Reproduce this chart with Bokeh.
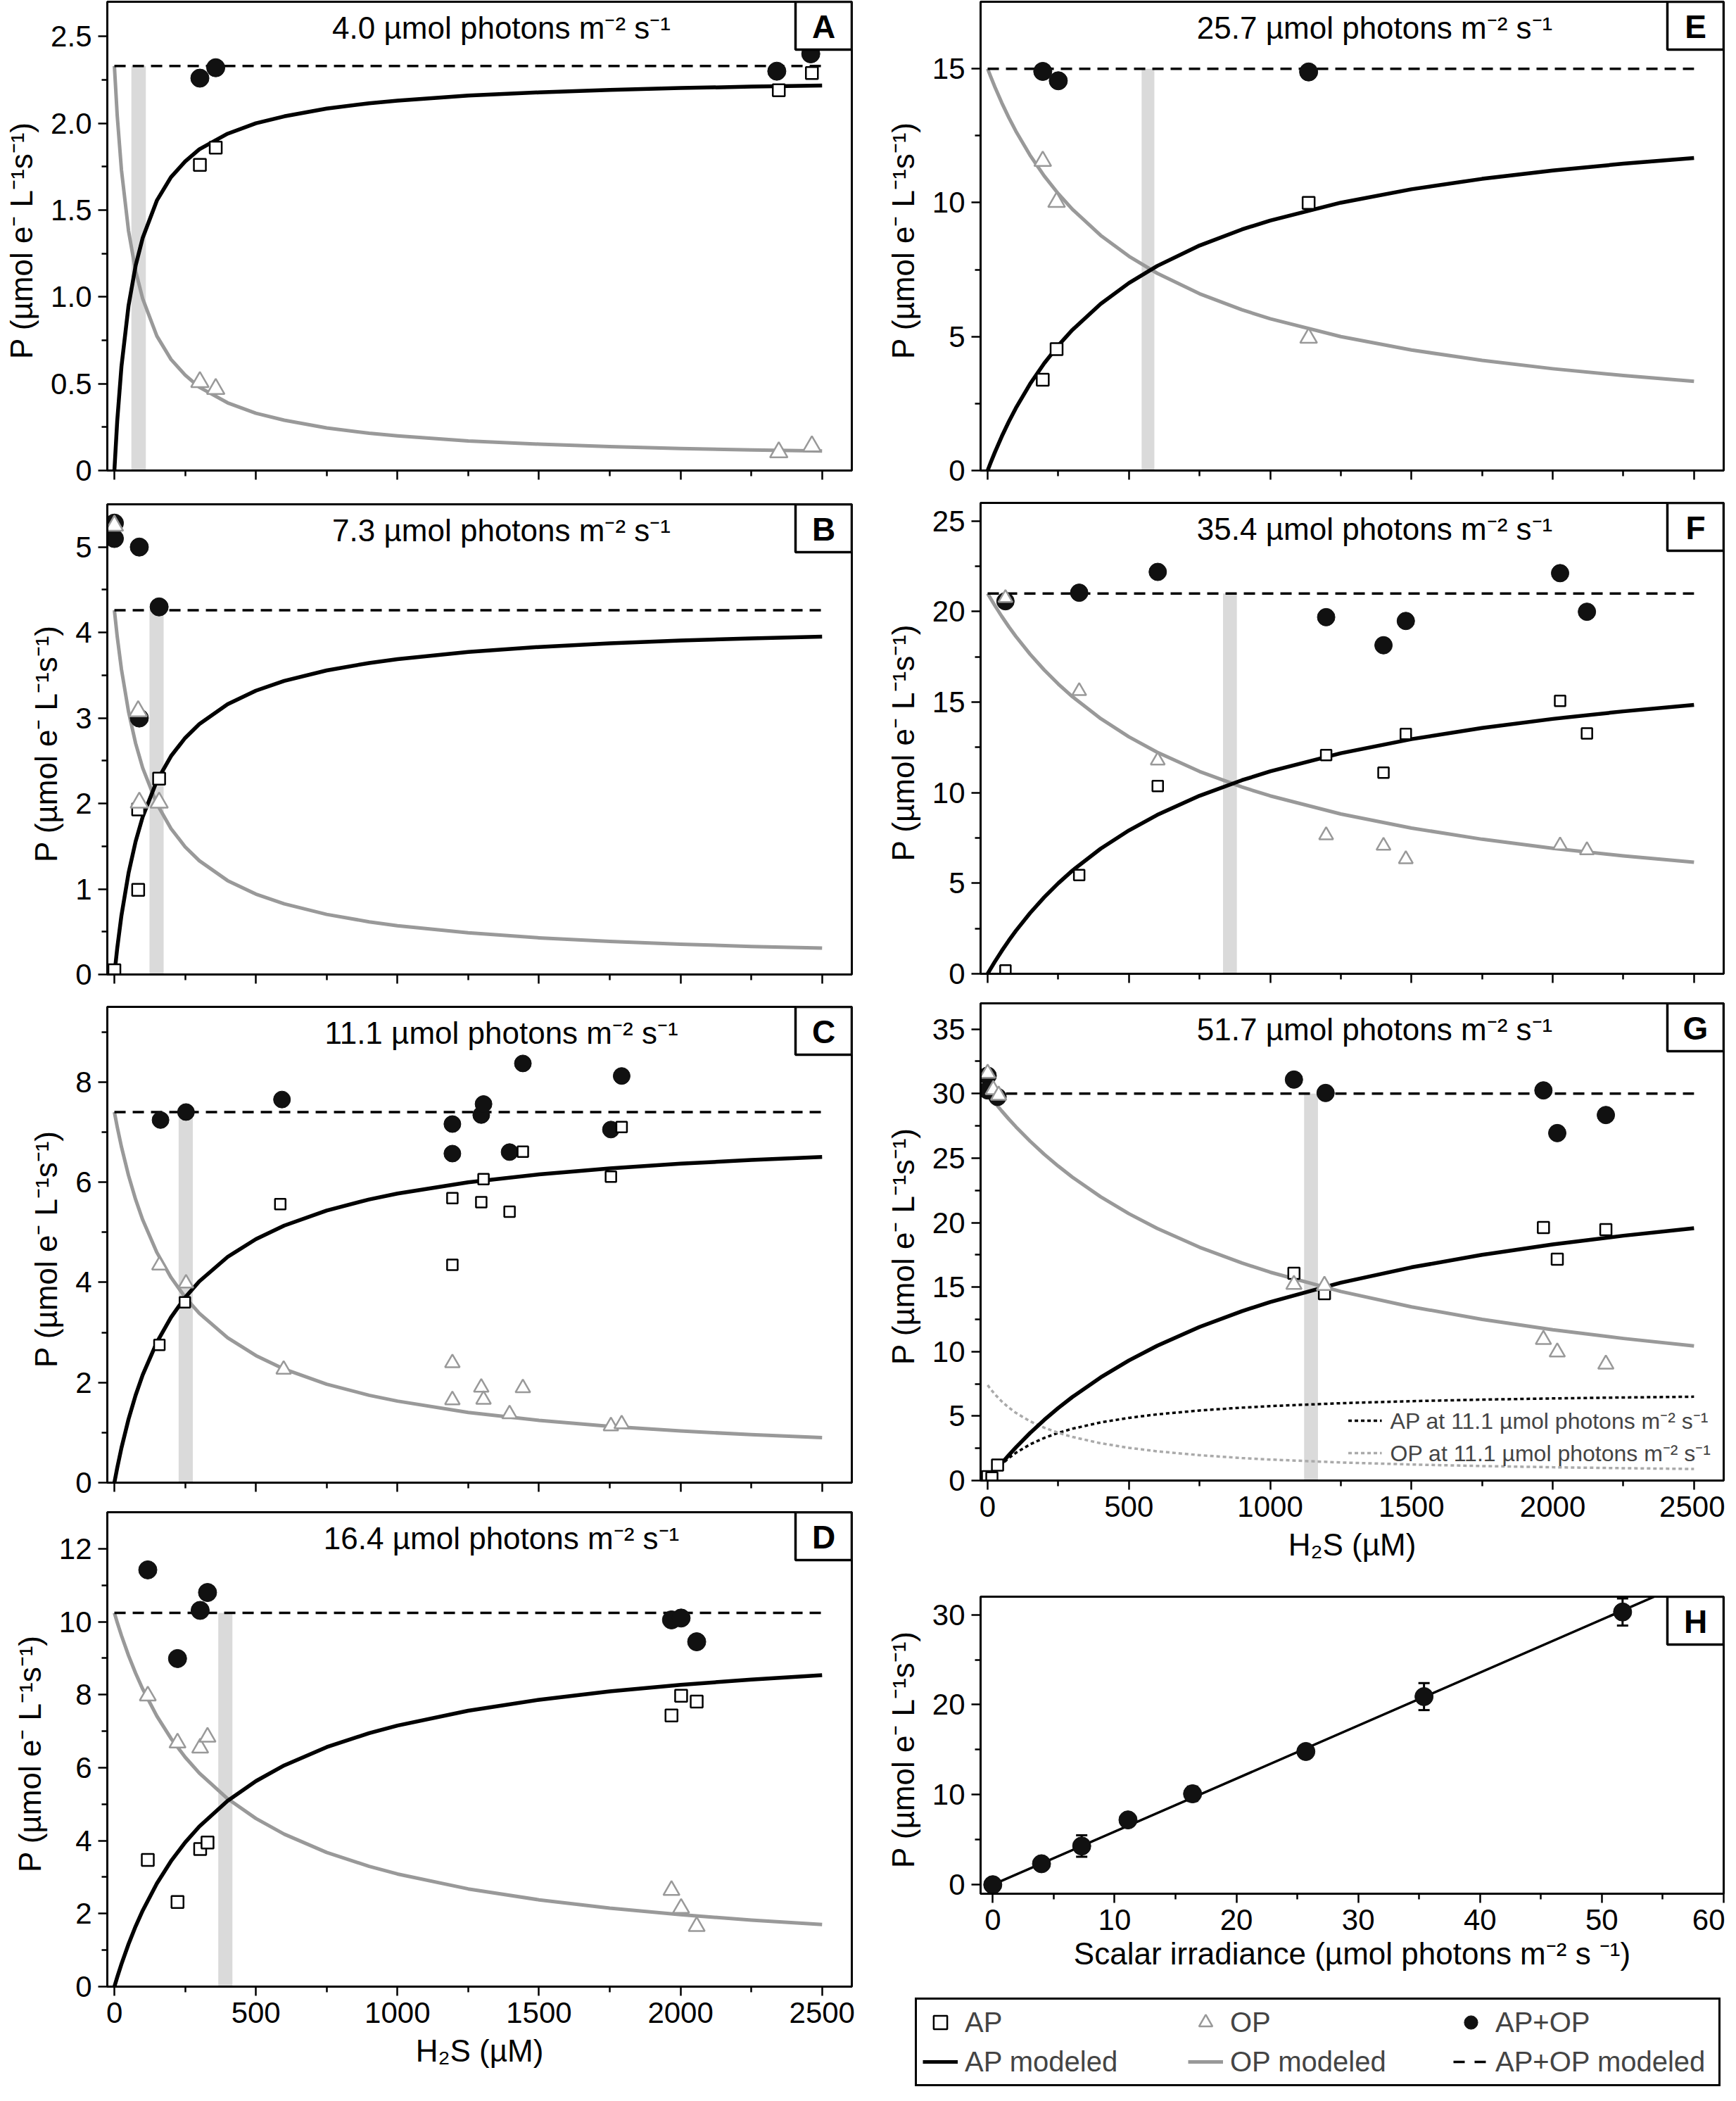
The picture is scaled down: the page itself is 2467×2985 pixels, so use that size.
from bokeh.plotting import figure
from bokeh.models import (Range1d, FixedTicker, Label, BoxAnnotation, Legend,
                          LegendItem, ColumnDataSource, Whisker, TeeHead)
from bokeh.layouts import row, column
from bokeh.embed import file_html
from bokeh.resources import INLINE
from bokeh.core.properties import value

FONT = "Liberation Sans"
GRAY = "#999999"
BAR_COLOR = "#dadada"
DOT_COLOR = "#111111"

# ---------------------------------------------------------------- common
H2S_MAJOR = [0, 500, 1000, 1500, 2000, 2500]
H2S_MINOR = [250, 750, 1250, 1750, 2250]
H2S_LABELS = ["0", "500", "1000", "1500", "2000", "2500"]
MODEL_SPAN = [0, 2500]
X_RANGE = (-25, 2605)
Y_LABEL = "P (µmol e⁻  L⁻¹s⁻¹)"
X_LABEL = "H₂S (µM)"
MODEL_H2S = [0, 10, 25, 50, 75, 100, 150, 200, 250, 300, 400, 500, 600, 750, 900,
             1000, 1250, 1500, 1750, 2000, 2250, 2500]

# ---------------------------------------------------------------- panel A
A_TITLE = "4.0 µmol photons m⁻² s⁻¹"
A_YMAX = 2.70
A_YMAJOR = [0, 0.5, 1.0, 1.5, 2.0, 2.5]
A_YMINOR = [0.25, 0.75, 1.25, 1.75, 2.25]
A_YLABELS = ["0", "0.5", "1.0", "1.5", "2.0", "2.5"]
A_AP_H2S = [302, 358, 2347, 2464]
A_AP_P = [1.76, 1.86, 2.19, 2.29]
A_OP_H2S = [302, 358, 2347, 2464]
A_OP_P = [0.51, 0.47, 0.105, 0.14]
A_TOT_H2S = [302, 358, 2340, 2460]
A_TOT_P = [2.26, 2.32, 2.30, 2.40]
A_AP_MODEL = [0, 0.285, 0.60, 0.95, 1.18, 1.34, 1.555, 1.69, 1.78, 1.85, 1.94, 2.0,
              2.04, 2.085, 2.115, 2.13, 2.16, 2.178, 2.192, 2.203, 2.211, 2.218]
A_OP_MODEL = [2.33, 2.045, 1.73, 1.38, 1.15, 0.99, 0.775, 0.64, 0.55, 0.48, 0.39, 0.33,
              0.29, 0.245, 0.215, 0.20, 0.17, 0.152, 0.138, 0.127, 0.119, 0.112]
A_TOTAL_MODEL = 2.33
A_BAR = [60, 111]

# ---------------------------------------------------------------- panel B
B_TITLE = "7.3 µmol photons m⁻² s⁻¹"
B_YMAX = 5.5
B_YMAJOR = [0, 1, 2, 3, 4, 5]
B_YMINOR = [0.5, 1.5, 2.5, 3.5, 4.5]
B_YLABELS = ["0", "1", "2", "3", "4", "5"]
B_AP_H2S = [0, 84, 84, 158]
B_AP_P = [0.05, 0.99, 1.93, 2.29]
B_OP_H2S = [0, 84, 88, 158]
B_OP_P = [5.25, 3.08, 2.01, 2.01]
B_TOT_H2S = [0, 0, 88, 88, 158]
B_TOT_P = [5.28, 5.10, 5.00, 3.00, 4.30]
B_AP_MODEL = [0, 0.307, 0.692, 1.186, 1.556, 1.844, 2.264, 2.554, 2.767, 2.929, 3.162, 3.32,
              3.434, 3.557, 3.644, 3.689, 3.773, 3.831, 3.873, 3.906, 3.932, 3.952]
B_OP_MODEL = [4.26, 3.953, 3.568, 3.074, 2.704, 2.416, 1.996, 1.706, 1.493, 1.331, 1.098, 0.94,
              0.826, 0.703, 0.616, 0.571, 0.487, 0.429, 0.387, 0.354, 0.328, 0.308]
B_TOTAL_MODEL = 4.26
B_BAR = [124, 174]

# ---------------------------------------------------------------- panel C
C_TITLE = "11.1 µmol photons m⁻² s⁻¹"
C_YMAX = 9.5
C_YMAJOR = [0, 2, 4, 6, 8]
C_YMINOR = [1, 3, 5, 7, 9]
C_YLABELS = ["0", "2", "4", "6", "8"]
C_AP_H2S = [159, 249, 586, 1194, 1194, 1304, 1296, 1396, 1443, 1754, 1792]
C_AP_P = [2.75, 3.60, 5.56, 5.68, 4.35, 6.06, 5.60, 5.41, 6.61, 6.11, 7.10]
C_OP_H2S = [159, 253, 598, 1194, 1194, 1296, 1304, 1396, 1443, 1754, 1792]
C_OP_P = [4.34, 3.98, 2.26, 2.39, 1.65, 1.90, 1.66, 1.37, 1.89, 1.13, 1.17]
C_TOT_H2S = [163, 253, 592, 1194, 1194, 1296, 1304, 1396, 1443, 1754, 1792]
C_TOT_P = [7.24, 7.40, 7.65, 7.16, 6.57, 7.34, 7.56, 6.60, 8.37, 7.05, 8.12]
C_AP_MODEL = [0, 0.296, 0.696, 1.268, 1.746, 2.152, 2.803, 3.302, 3.698, 4.019, 4.508, 4.863,
              5.133, 5.434, 5.655, 5.772, 5.997, 6.156, 6.275, 6.368, 6.442, 6.502]
C_OP_MODEL = [7.4, 7.104, 6.704, 6.132, 5.654, 5.248, 4.597, 4.098, 3.702, 3.381, 2.892, 2.537,
              2.267, 1.966, 1.745, 1.628, 1.403, 1.244, 1.125, 1.032, 0.958, 0.898]
C_TOTAL_MODEL = 7.40
C_BAR = [227, 277]

# ---------------------------------------------------------------- panel D
D_TITLE = "16.4 µmol photons m⁻² s⁻¹"
D_YMAX = 13.0
D_YMAJOR = [0, 2, 4, 6, 8, 10, 12]
D_YMINOR = [1, 3, 5, 7, 9, 11]
D_YLABELS = ["0", "2", "4", "6", "8", "10", "12"]
D_AP_H2S = [118, 223, 303, 329, 1968, 2002, 2057]
D_AP_P = [3.47, 2.32, 3.77, 3.95, 7.43, 7.97, 7.81]
D_OP_H2S = [118, 223, 303, 329, 1968, 2002, 2057]
D_OP_P = [7.97, 6.68, 6.54, 6.84, 2.64, 2.15, 1.65]
D_TOT_H2S = [118, 223, 303, 329, 1968, 2002, 2057]
D_TOT_P = [11.42, 8.99, 10.31, 10.80, 10.05, 10.10, 9.45]
D_AP_MODEL = [0, 0.258, 0.620, 1.167, 1.652, 2.085, 2.827, 3.439, 3.952, 4.388, 5.091, 5.632,
              6.062, 6.563, 6.945, 7.153, 7.562, 7.861, 8.090, 8.270, 8.416, 8.537]
D_OP_MODEL = [10.24, 9.982, 9.62, 9.073, 8.588, 8.155, 7.413, 6.801, 6.288, 5.852, 5.149, 4.608,
              4.178, 3.677, 3.295, 3.087, 2.678, 2.379, 2.15, 1.97, 1.824, 1.703]
D_TOTAL_MODEL = 10.24
D_BAR = [367, 417]

# ---------------------------------------------------------------- panel E
E_TITLE = "25.7 µmol photons m⁻² s⁻¹"
E_YMAX = 17.5
E_YMAJOR = [0, 5, 10, 15]
E_YMINOR = [2.5, 7.5, 12.5]
E_YLABELS = ["0", "5", "10", "15"]
E_AP_H2S = [195, 244, 1136]
E_AP_P = [3.39, 4.53, 9.99]
E_OP_H2S = [195, 244, 1136]
E_OP_P = [11.55, 10.02, 4.95]
E_TOT_H2S = [195, 250, 1136]
E_TOT_P = [14.90, 14.55, 14.88]
E_AP_MODEL = [0, 0.275, 0.667, 1.273, 1.826, 2.333, 3.231, 4.0, 4.667, 5.25, 6.222, 7.0,
              7.636, 8.4, 9.0, 9.333, 10.0, 10.5, 10.889, 11.2, 11.455, 11.667]
E_OP_MODEL = [15.0, 14.725, 14.333, 13.727, 13.174, 12.667, 11.769, 11.0, 10.333, 9.75, 8.778, 8.0,
              7.364, 6.6, 6.0, 5.667, 5.0, 4.5, 4.111, 3.8, 3.545, 3.333]
E_TOTAL_MODEL = 15.0
E_BAR = [545, 590]

# ---------------------------------------------------------------- panel F
F_TITLE = "35.4 µmol photons m⁻² s⁻¹"
F_YMAX = 26.0
F_YMAJOR = [0, 5, 10, 15, 20, 25]
F_YMINOR = [2.5, 7.5, 12.5, 17.5, 22.5]
F_YLABELS = ["0", "5", "10", "15", "20", "25"]
F_AP_H2S = [63, 324, 602, 1198, 1401, 1480, 2026, 2121]
F_AP_P = [0.18, 5.45, 10.37, 12.08, 11.11, 13.24, 15.07, 13.27]
F_OP_H2S = [63, 324, 602, 1198, 1401, 1480, 2026, 2121]
F_OP_P = [20.75, 15.61, 11.78, 7.65, 7.07, 6.33, 7.09, 6.82]
F_TOT_H2S = [63, 324, 602, 1198, 1401, 1480, 2026, 2121]
F_TOT_P = [20.57, 21.04, 22.19, 19.69, 18.14, 19.48, 22.12, 19.99]
F_AP_MODEL = [0, 0.268, 0.655, 1.267, 1.839, 2.375, 3.353, 4.222, 5.0, 5.7, 6.909, 7.917,
              8.769, 9.828, 10.688, 11.176, 12.179, 12.955, 13.571, 14.074, 14.492, 14.844]
F_OP_MODEL = [21.0, 20.732, 20.345, 19.733, 19.161, 18.625, 17.647, 16.778, 16.0, 15.3, 14.091,
              13.083, 12.231, 11.172, 10.312, 9.824, 8.821, 8.045, 7.429, 6.926, 6.508, 6.156]
F_TOTAL_MODEL = 21.0
F_BAR = [833, 882]

# ---------------------------------------------------------------- panel G
G_TITLE = "51.7 µmol photons m⁻² s⁻¹"
G_YMAX = 37.0
G_YMAJOR = [0, 5, 10, 15, 20, 25, 30, 35]
G_YMINOR = [2.5, 7.5, 12.5, 17.5, 22.5, 27.5, 32.5]
G_YLABELS = ["0", "5", "10", "15", "20", "25", "30", "35"]
G_AP_H2S = [0, 15, 35, 1084, 1192, 1967, 2016, 2188]
G_AP_P = [0.30, 0.20, 1.20, 16.07, 14.49, 19.62, 17.16, 19.45]
G_OP_H2S = [0, 20, 39, 1084, 1192, 1967, 2016, 2188]
G_OP_P = [31.57, 30.30, 29.87, 15.20, 15.12, 10.93, 9.96, 9.02]
G_TOT_H2S = [0, 0, 35, 1084, 1196, 1967, 2016, 2188]
G_TOT_P = [31.39, 30.25, 29.74, 31.09, 30.05, 30.25, 26.94, 28.34]
G_AP_MODEL = [0, 0.281, 0.692, 1.35, 1.976, 2.571, 3.682, 4.696, 5.625, 6.48, 8.0, 9.31,
              10.452, 11.912, 13.135, 13.846, 15.341, 16.531, 17.5, 18.305, 18.984, 19.565]
G_OP_MODEL = [30.0, 29.719, 29.308, 28.65, 28.024, 27.429, 26.318, 25.304, 24.375, 23.52, 22.0,
              20.69, 19.548, 18.088, 16.865, 16.154, 14.659, 13.469, 12.5, 11.695, 11.016, 10.435]
G_TOTAL_MODEL = 30.0
G_BAR = [1120, 1169]
G_REF_LABEL_AP = "AP at 11.1 µmol photons m⁻² s⁻¹"
G_REF_LABEL_OP = "OP at 11.1 µmol photons m⁻² s⁻¹"

# ---------------------------------------------------------------- panel H
H_IRRADIANCE = [0.0, 4.0, 7.3, 11.1, 16.4, 25.7, 35.4, 51.7]
H_P_MEAN = [0.0, 2.33, 4.30, 7.20, 10.10, 14.80, 20.90, 30.30]
H_P_ERR = [0.1, 0.3, 1.2, 0.45, 0.8, 0.5, 1.5, 1.5]
H_FIT_X = [0.0, 54.3]
H_FIT_Y = [0.0, 32.0]
H_XLABEL = "Scalar irradiance (µmol photons m⁻² s ⁻¹)"

PANELS = {
    "A": dict(title=A_TITLE, ymax=A_YMAX, ymajor=A_YMAJOR, yminor=A_YMINOR, ylabels=A_YLABELS,
              ap=(A_AP_H2S, A_AP_P), op=(A_OP_H2S, A_OP_P), tot=(A_TOT_H2S, A_TOT_P),
              apm=A_AP_MODEL, opm=A_OP_MODEL, total=A_TOTAL_MODEL, bar=A_BAR),
    "B": dict(title=B_TITLE, ymax=B_YMAX, ymajor=B_YMAJOR, yminor=B_YMINOR, ylabels=B_YLABELS,
              ap=(B_AP_H2S, B_AP_P), op=(B_OP_H2S, B_OP_P), tot=(B_TOT_H2S, B_TOT_P),
              apm=B_AP_MODEL, opm=B_OP_MODEL, total=B_TOTAL_MODEL, bar=B_BAR),
    "C": dict(title=C_TITLE, ymax=C_YMAX, ymajor=C_YMAJOR, yminor=C_YMINOR, ylabels=C_YLABELS,
              ap=(C_AP_H2S, C_AP_P), op=(C_OP_H2S, C_OP_P), tot=(C_TOT_H2S, C_TOT_P),
              apm=C_AP_MODEL, opm=C_OP_MODEL, total=C_TOTAL_MODEL, bar=C_BAR),
    "D": dict(title=D_TITLE, ymax=D_YMAX, ymajor=D_YMAJOR, yminor=D_YMINOR, ylabels=D_YLABELS,
              ap=(D_AP_H2S, D_AP_P), op=(D_OP_H2S, D_OP_P), tot=(D_TOT_H2S, D_TOT_P),
              apm=D_AP_MODEL, opm=D_OP_MODEL, total=D_TOTAL_MODEL, bar=D_BAR),
    "E": dict(title=E_TITLE, ymax=E_YMAX, ymajor=E_YMAJOR, yminor=E_YMINOR, ylabels=E_YLABELS,
              ap=(E_AP_H2S, E_AP_P), op=(E_OP_H2S, E_OP_P), tot=(E_TOT_H2S, E_TOT_P),
              apm=E_AP_MODEL, opm=E_OP_MODEL, total=E_TOTAL_MODEL, bar=E_BAR),
    "F": dict(title=F_TITLE, ymax=F_YMAX, ymajor=F_YMAJOR, yminor=F_YMINOR, ylabels=F_YLABELS,
              ap=(F_AP_H2S, F_AP_P), op=(F_OP_H2S, F_OP_P), tot=(F_TOT_H2S, F_TOT_P),
              apm=F_AP_MODEL, opm=F_OP_MODEL, total=F_TOTAL_MODEL, bar=F_BAR),
    "G": dict(title=G_TITLE, ymax=G_YMAX, ymajor=G_YMAJOR, yminor=G_YMINOR, ylabels=G_YLABELS,
              ap=(G_AP_H2S, G_AP_P), op=(G_OP_H2S, G_OP_P), tot=(G_TOT_H2S, G_TOT_P),
              apm=G_AP_MODEL, opm=G_OP_MODEL, total=G_TOTAL_MODEL, bar=G_BAR),
}

# marker sizes (square, triangle, circle) per panel
MARKERS = {"A": (17, 25, 26), "B": (17, 25, 26), "C": (15, 21, 24), "D": (17, 23, 26),
           "E": (17, 24, 26), "F": (15, 20, 25), "G": (16, 22, 25)}


def style(p):
    p.grid.visible = False
    p.background_fill_color = "white"
    p.border_fill_color = "white"
    p.outline_line_color = "black"
    p.outline_line_width = 3
    p.outline_line_alpha = 1.0
    for ax in p.axis:
        ax.axis_line_width = 3
        ax.axis_line_color = "black"
        ax.major_tick_line_width = 2.5
        ax.minor_tick_line_width = 2.5
        ax.major_tick_line_color = "black"
        ax.minor_tick_line_color = "black"
        ax.major_tick_in = 0
        ax.major_tick_out = 13
        ax.minor_tick_in = 0
        ax.minor_tick_out = 8
        ax.major_label_text_font = FONT
        ax.major_label_text_font_size = "42px"
        ax.major_label_text_color = "black"
        ax.axis_label_text_font = FONT
        ax.axis_label_text_font_size = "44px"
        ax.axis_label_text_font_style = "normal"
        ax.axis_label_text_color = "black"
        ax.major_label_standoff = 9
    p.xaxis.axis_label_standoff = 12
    p.yaxis.axis_label_standoff = 14


def xd(xr, fw, px):
    return xr[0] + (xr[1] - xr[0]) * px / fw


def yd(yr, fh, px_from_top):
    return yr[1] - (yr[1] - yr[0]) * px_from_top / fh


def add_letter(p, xr, yr, fw, fh, letter):
    p.add_layout(BoxAnnotation(left=xd(xr, fw, fw - 80), right=xr[1],
                               bottom=yd(yr, fh, 68), top=yr[1],
                               fill_color="white", fill_alpha=1.0,
                               line_color="black", line_width=3.5, line_alpha=1.0))
    p.add_layout(Label(x=xd(xr, fw, fw - 40), y=yd(yr, fh, 35), text=letter,
                       text_font=FONT, text_font_size="46px", text_font_style="bold",
                       text_align="center", text_baseline="middle", text_color="black"))


def build_panel(letter, col, top_b, fh, bot_b, show_x):
    d = PANELS[letter]
    sq, tri, circ = MARKERS[letter]
    fw, lb, rb = (1058, 152, 20) if col == 0 else (1056, 163, 2)
    xr = X_RANGE
    yr = (0, d["ymax"])
    p = figure(frame_width=fw, frame_height=fh, min_border_left=lb, min_border_right=rb,
               min_border_top=top_b, min_border_bottom=bot_b,
               x_range=Range1d(*xr), y_range=Range1d(*yr),
               output_backend="svg", toolbar_location=None)
    style(p)
    p.xaxis.ticker = FixedTicker(ticks=H2S_MAJOR, minor_ticks=H2S_MINOR)
    if show_x:
        p.xaxis.major_label_overrides = dict(zip(H2S_MAJOR, H2S_LABELS))
        p.xaxis.axis_label = X_LABEL
    else:
        p.xaxis.major_label_overrides = {t: "" for t in H2S_MAJOR}
        p.xaxis.major_label_text_font_size = "1px"
    p.yaxis.ticker = FixedTicker(ticks=d["ymajor"], minor_ticks=d["yminor"])
    p.yaxis.major_label_overrides = dict(zip(d["ymajor"], d["ylabels"]))
    p.yaxis.axis_label = Y_LABEL

    p.quad(left=[d["bar"][0]], right=[d["bar"][1]], bottom=[0], top=[d["total"]],
           fill_color=BAR_COLOR, line_color=None)

    if letter == "G":
        r_ap_ref = p.line(MODEL_H2S, C_AP_MODEL, line_color="black", line_width=3.5,
                          line_dash="5 4")
        r_op_ref = p.line(MODEL_H2S, C_OP_MODEL, line_color="#aaaaaa", line_width=3.5,
                          line_dash="5 4")

    p.line(MODEL_H2S, d["opm"], line_color=GRAY, line_width=5, line_join="round")
    p.line(MODEL_H2S, d["apm"], line_color="black", line_width=5.5, line_join="round")
    p.line(MODEL_SPAN, [d["total"], d["total"]], line_color="black", line_width=3.5,
           line_dash="16 10")

    p.scatter(d["tot"][0], d["tot"][1], marker="circle", size=circ,
              fill_color=DOT_COLOR, line_color=DOT_COLOR)
    p.scatter(d["ap"][0], d["ap"][1], marker="square", size=sq,
              fill_color="white", line_color="black", line_width=2.5)
    p.scatter(d["op"][0], d["op"][1], marker="triangle", size=tri,
              fill_color="white", line_color=GRAY, line_width=2.5)

    if letter == "G":
        leg = Legend(items=[LegendItem(label=value(G_REF_LABEL_AP), renderers=[r_ap_ref]),
                            LegendItem(label=value(G_REF_LABEL_OP), renderers=[r_op_ref])],
                     location="bottom_right", margin=18, padding=8, spacing=3,
                     glyph_width=48, glyph_height=36, label_height=36, label_standoff=12,
                     label_text_font=FONT, label_text_font_size="32px",
                     border_line_color=None, background_fill_alpha=0.0)
        p.add_layout(leg)

    p.add_layout(Label(x=xd(xr, fw, 560), y=yd(yr, fh, 37), text=d["title"],
                       text_font=FONT, text_font_size="44px", text_align="center",
                       text_baseline="middle", text_color="black"))
    add_letter(p, xr, yr, fw, fh, letter)
    return p


pA = build_panel("A", 0, 2, 666, 46, False)
pB = build_panel("B", 0, 2, 668, 44, False)
pC = build_panel("C", 0, 2, 676, 40, False)
pD = build_panel("D", 0, 2, 674, 147, True)

pE = build_panel("E", 1, 2, 666, 44, False)
pF = build_panel("F", 1, 2, 669, 40, False)
pG = build_panel("G", 1, 2, 678, 140, True)

# ---------------------------------------------------------------- panel H
hx = (-1, 60)
hy = (-1, 32)
pH = figure(frame_width=1056, frame_height=422, min_border_left=163, min_border_right=2,
            min_border_top=25, min_border_bottom=140,
            x_range=Range1d(*hx), y_range=Range1d(*hy),
            output_backend="svg", toolbar_location=None)
style(pH)
pH.xaxis.ticker = FixedTicker(ticks=[0, 10, 20, 30, 40, 50, 60], minor_ticks=[5, 15, 25, 35, 45, 55])
pH.yaxis.ticker = FixedTicker(ticks=[0, 10, 20, 30], minor_ticks=[5, 15, 25])
pH.xaxis.axis_label = H_XLABEL
pH.yaxis.axis_label = Y_LABEL
pH.xaxis.axis_label_standoff = 6
pH.line(H_FIT_X, H_FIT_Y, line_color="black", line_width=3.5)
hsrc = ColumnDataSource(dict(
    x=H_IRRADIANCE, y=H_P_MEAN,
    lo=[m - e for m, e in zip(H_P_MEAN, H_P_ERR)],
    hi=[m + e for m, e in zip(H_P_MEAN, H_P_ERR)]))
wh = Whisker(source=hsrc, base="x", upper="hi", lower="lo", line_width=3, line_color="black",
             upper_head=TeeHead(size=16, line_width=3, line_color="black"),
             lower_head=TeeHead(size=16, line_width=3, line_color="black"))
pH.add_layout(wh)
pH.scatter("x", "y", source=hsrc, marker="circle", size=26, fill_color=DOT_COLOR,
           line_color=DOT_COLOR)
add_letter(pH, hx, hy, 1056, 422, "H")

# ---------------------------------------------------------------- legend
pL = figure(frame_width=1156, frame_height=134, min_border_left=61, min_border_right=4,
            min_border_top=2, min_border_bottom=3,
            x_range=Range1d(0, 1), y_range=Range1d(0, 1),
            output_backend="svg", toolbar_location=None)
pL.axis.visible = False
pL.grid.visible = False
pL.outline_line_color = None
pL.background_fill_color = "white"
pL.border_fill_color = "white"
# single off-canvas sample so the legend glyphs are drawn
OFF = [-10]
r1 = pL.scatter(OFF, OFF, marker="square", size=17, fill_color="white", line_color="black", line_width=2.5)
r2 = pL.scatter(OFF, OFF, marker="triangle", size=21, fill_color="white", line_color=GRAY, line_width=2.5)
r3 = pL.scatter(OFF, OFF, marker="circle", size=26, fill_color=DOT_COLOR, line_color=DOT_COLOR)
r4 = pL.line(OFF * 2, OFF * 2, line_color="black", line_width=5)
r5 = pL.line(OFF * 2, OFF * 2, line_color=GRAY, line_width=5)
r6 = pL.line(OFF * 2, OFF * 2, line_color="black", line_width=3.5, line_dash="16 14")

leg = Legend(items=[LegendItem(label=value("AP"), renderers=[r1]),
                    LegendItem(label=value("OP"), renderers=[r2]),
                    LegendItem(label=value("AP+OP"), renderers=[r3]),
                    LegendItem(label=value("AP modeled"), renderers=[r4]),
                    LegendItem(label=value("OP modeled"), renderers=[r5]),
                    LegendItem(label=value("AP+OP modeled"), renderers=[r6])],
             orientation="horizontal", ncols=3,
             location="bottom_right", margin=2, padding=8, spacing=8,
             glyph_width=50, glyph_height=48, label_height=48, label_width=309,
             label_standoff=10, label_text_font=FONT, label_text_font_size="40px",
             border_line_color="black", border_line_width=3, border_line_alpha=1.0,
             background_fill_color="white", background_fill_alpha=1.0)
pL.add_layout(leg)

left = column(pA, pB, pC, pD, spacing=0)
right = column(pE, pF, pG, pH, row(pL, spacing=0), spacing=0)
layout = row(left, right, spacing=0)

open("out.html", "w").write(file_html(layout, INLINE, title="Photosynthesis vs H2S"))
